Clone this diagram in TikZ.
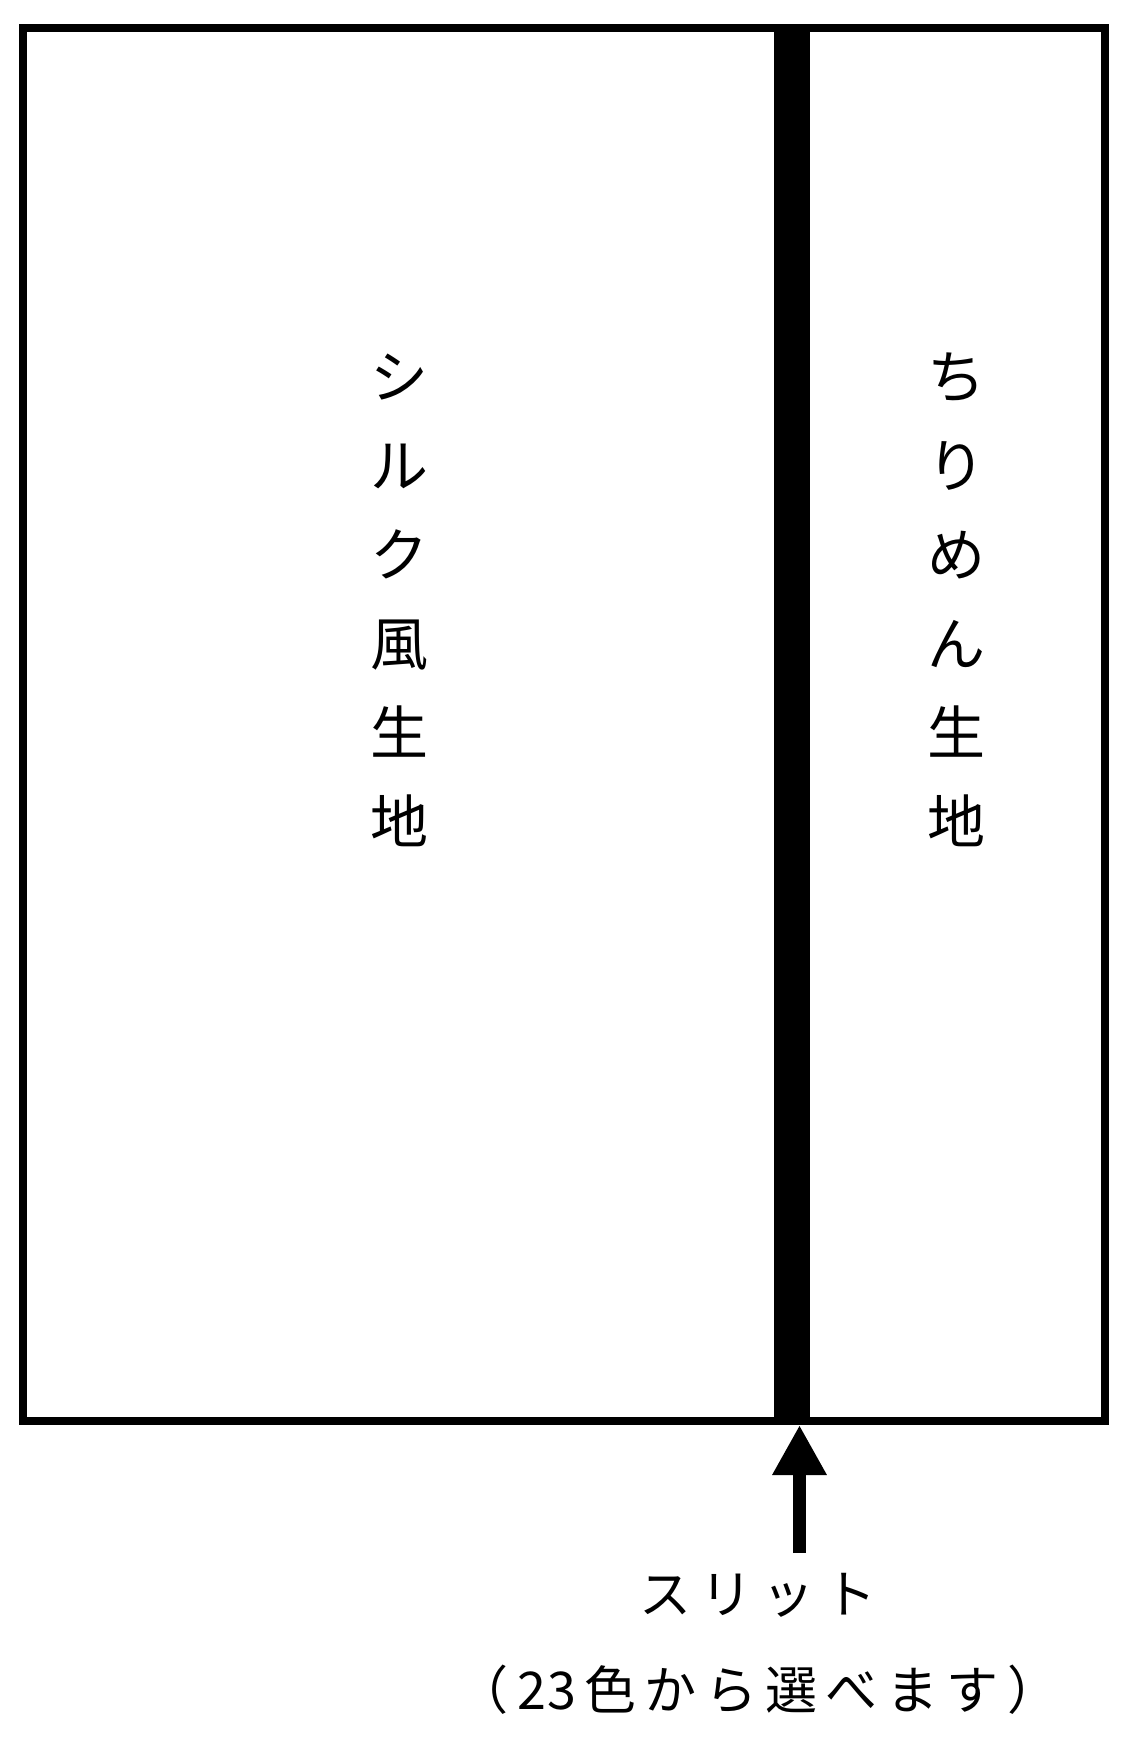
\documentclass[tikz,border=0pt]{standalone}
\usepackage{fontspec}
\newfontfamily\cjk{Noto Sans CJK JP}
\usetikzlibrary{arrows.meta}
\newcommand{\gp}{\hspace{8.4pt}}
\tikzset{
  frame/.style={draw=black, line width=8pt},
  slitbar/.style={fill=black, draw=none},
  vlabel/.style={align=center, inner sep=0pt, font=\cjk\fontsize{58}{89}\selectfont},
  hlabel/.style={inner sep=0pt, font=\cjk\fontsize{52}{62}\selectfont},
  pointer/.style={line width=13pt, -{Triangle[width=51pt,length=50pt]}}
}
\begin{document}
\begin{tikzpicture}[x=1pt,y=-1pt]
\useasboundingbox (0,0) rectangle (1142,1764);
\fill[white] (0,0) rectangle (1142,1764);
\draw[frame] (23,28) rectangle (1105,1421);
\fill[slitbar] (774,28) rectangle (810,1421);
\node[vlabel] (silk) at (399,600) {シ\\ル\\ク\\風\\生\\地};
\node[vlabel] (chirimen) at (956,600) {ち\\り\\め\\ん\\生\\地};
\coordinate (slitbot) at (799.5,1425);
\coordinate (tail) at (799.5,1553);
\draw[pointer] (tail) -- (slitbot);
\node[hlabel] (slit) at (758,1595) {ス\hspace{10pt}リ\hspace{10pt}ッ\hspace{10pt}ト};
\node[hlabel] (colors) at (758,1690) {（\gp 2\hspace{1pt}3\gp 色\gp か\gp ら\gp 選\gp べ\gp ま\gp す\gp ）};
\end{tikzpicture}
\end{document}
